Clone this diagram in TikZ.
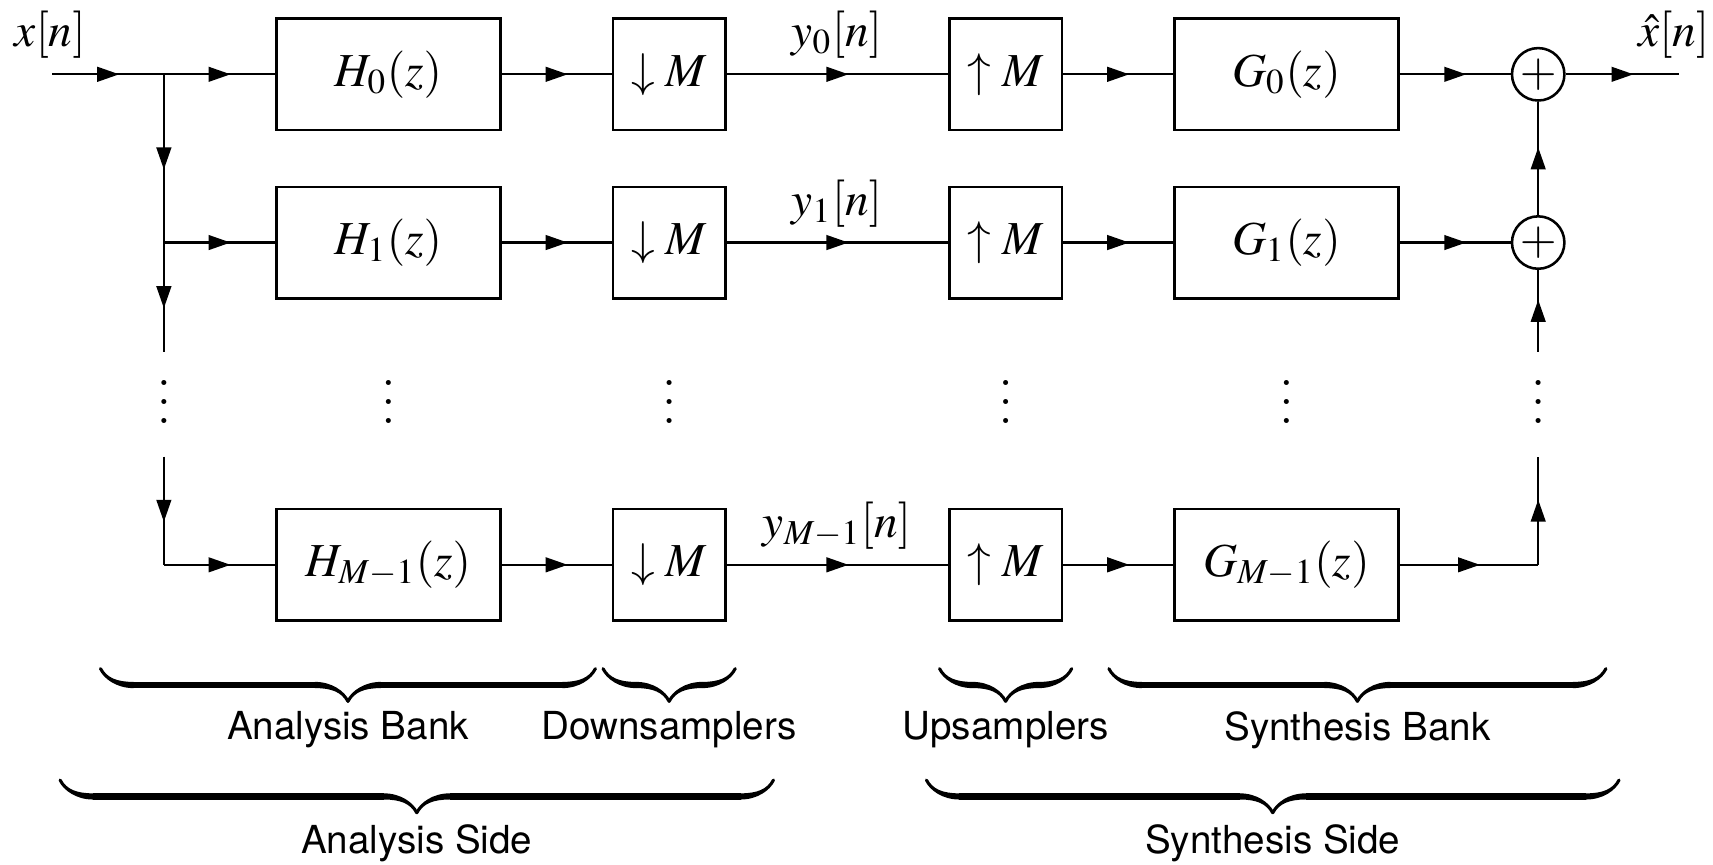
\documentclass[tikz,border=0pt]{standalone}
\usepackage{mathptmx}
\usepackage{fontspec}
\setsansfont{TeX Gyre Heros}
\usetikzlibrary{decorations.markings,decorations.pathreplacing,calligraphy}
\newcommand\myvdots{\vbox{\baselineskip5.1pt\lineskiplimit0pt\hbox{$.$}\hbox{$.$}\hbox{$.$}}}
\newcommand\mathsz{\fontsize{13pt}{15pt}\selectfont}
\newcommand\labsz{\fontsize{10.6pt}{12pt}\selectfont\sffamily}
\begin{document}
\begin{tikzpicture}[x=0.3pt,y=-0.3pt,line width=0.6pt,
  blk/.style={draw,line width=0.7pt,minimum width=61.5pt,minimum height=30.6pt,inner sep=0pt,font=\mathsz},
  smp/.style={blk,minimum width=30.9pt},
  sumnode/.style={draw,line width=0.7pt,circle,minimum size=14.4pt,inner sep=0pt,font=\mathsz},
  sig/.style={font=\mathsz,inner sep=0pt},
  lbl/.style={font=\labsz,inner sep=0pt},
  dts/.style={font=\mathsz,inner sep=0pt},
  marr/.style={postaction={decorate},decoration={markings,mark=at position 0.5 with {\fill (-3pt,-2.1pt) -- (3pt,0pt) -- (-3pt,2.1pt) -- cycle;}}},
  cbrace/.style={decorate,decoration={calligraphic brace,amplitude=9pt},line width=1.7pt,pen colour={black}}
]
\useasboundingbox (0,0) rectangle (1568,791);
% blocks
\node[blk] (h0) at (355.5,68) {$H_0(z)$};
\node[blk] (h1) at (355.5,222) {$H_1(z)$};
\node[blk] (h2) at (355.5,517) {$H_{M-1}(z)$};
\node[smp] (d0) at (612.5,68) {$\downarrow M$};
\node[smp] (d1) at (612.5,222) {$\downarrow M$};
\node[smp] (d2) at (612.5,517) {$\downarrow M$};
\node[smp] (u0) at (920.5,68) {$\uparrow M$};
\node[smp] (u1) at (920.5,222) {$\uparrow M$};
\node[smp] (u2) at (920.5,517) {$\uparrow M$};
\node[blk] (g0) at (1177.5,68) {$G_0(z)$};
\node[blk] (g1) at (1177.5,222) {$G_1(z)$};
\node[blk] (g2) at (1177.5,517) {$G_{M-1}(z)$};
\node[sumnode] (s0) at (1408,68) {$+$};
\node[sumnode] (s1) at (1408,222) {$+$};
% coordinates
\coordinate (in) at (48,68);
\coordinate (b0) at (150,68);
\coordinate (b1) at (150,222);
\coordinate (bhi) at (150,322);
\coordinate (blo) at (150,418);
\coordinate (b2) at (150,517);
\coordinate (c2) at (1408,517);
\coordinate (rlo) at (1408,418);
\coordinate (rhi) at (1408,322);
\coordinate (out) at (1537,68);
% connectors
\draw[marr] (in) -- (b0);
\draw[marr] (b0) -- (h0);
\draw[marr] (b0) -- (b1);
\draw[marr] (b1) -- (bhi);
\draw[marr] (b1) -- (h1);
\draw[marr] (blo) -- (b2);
\draw[marr] (b2) -- (h2);
\draw[marr] (h0) -- (d0);
\draw[marr] (h1) -- (d1);
\draw[marr] (h2) -- (d2);
\draw[marr] (d0) -- (u0);
\draw[marr] (d1) -- (u1);
\draw[marr] (d2) -- (u2);
\draw[marr] (u0) -- (g0);
\draw[marr] (u1) -- (g1);
\draw[marr] (u2) -- (g2);
\draw[marr] (g0) -- (s0);
\draw[marr] (g1) -- (s1);
\draw[marr] (g2) -- (c2);
\draw[marr] (c2) -- (rlo);
\draw[marr] (rhi) -- (s1);
\draw[marr] (s1) -- (s0);
\draw[marr] (s0) -- (out);
% signal labels
\node[sig] (xin) at (46,32) {$x[n]$};
\node[sig] (y0) at (766,32) {$y_0[n]$};
\node[sig] (y1) at (766,186) {$y_1[n]$};
\node[sig] (y2) at (766,481) {$y_{M-1}[n]$};
\node[sig] (xout) at (1532,32) {$\hat{x}[n]$};
% dots
\node[dts] (v0) at (150,368) {\myvdots};
\node[dts] (v1) at (355.5,368) {\myvdots};
\node[dts] (v2) at (612.5,368) {\myvdots};
\node[dts] (v3) at (920.5,368) {\myvdots};
\node[dts] (v4) at (1177.5,368) {\myvdots};
\node[dts] (v5) at (1408,368) {\myvdots};
% braces
\coordinate (ab1) at (92,612);  \coordinate (ab2) at (545,612);
\coordinate (ds1) at (552,612); \coordinate (ds2) at (673,612);
\coordinate (us1) at (860,612); \coordinate (us2) at (981,612);
\coordinate (sb1) at (1015,612); \coordinate (sb2) at (1470,612);
\coordinate (as1) at (55,714);  \coordinate (as2) at (708,714);
\coordinate (ss1) at (848,714); \coordinate (ss2) at (1482,714);
\draw[cbrace] (ab2) -- (ab1);
\draw[cbrace] (ds2) -- (ds1);
\draw[cbrace] (us2) -- (us1);
\draw[cbrace] (sb2) -- (sb1);
\draw[cbrace] (as2) -- (as1);
\draw[cbrace] (ss2) -- (ss1);
\node[lbl] (lab) at (318.5,668) {Analysis Bank};
\node[lbl] (lds) at (612.5,668) {Downsamplers};
\node[lbl] (lus) at (920.5,668) {Upsamplers};
\node[lbl] (lsb) at (1242.5,668) {Synthesis Bank};
\node[lbl] (las) at (381.5,772) {Analysis Side};
\node[lbl] (lss) at (1165,772) {Synthesis Side};
\end{tikzpicture}
\end{document}
